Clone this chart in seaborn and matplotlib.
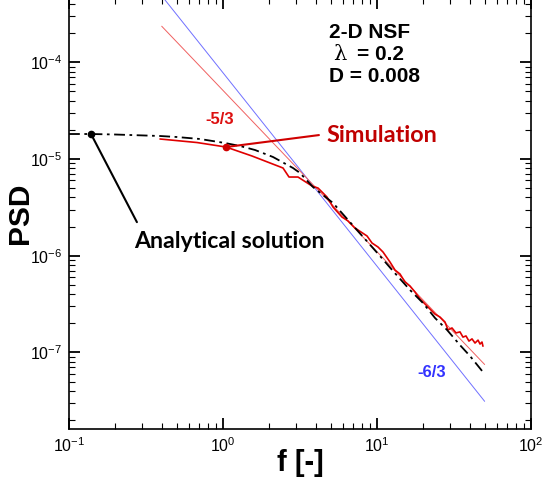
import matplotlib
matplotlib.use("Agg")
import matplotlib.pyplot as plt
import numpy as np
import pandas as pd
import seaborn as sns

# Simulated spectrum (frequency, PSD)
sim_f = [0.390, 0.678, 1.046, 1.543, 2.453, 2.683, 3.069, 3.784, 4.140, 4.732,
         5.179, 5.926, 6.482, 7.197, 7.875, 8.616, 9.286, 10.15, 10.94, 12.14,
         13.09, 14.10, 15.20, 16.38, 17.65, 19.02, 21.13, 22.43, 23.81, 25.66,
         27.65, 28.91, 30.69, 32.58, 34.59, 36.16, 37.84, 39.55, 41.40, 43.29,
         45.29, 46.67, 48.06, 48.75]
sim_psd = [1.61e-5, 1.48e-5, 1.33e-5, 1.074e-5, 8.07e-6, 6.51e-6, 6.51e-6, 5.26e-6, 5.01e-6, 4.05e-6,
           3.19e-6, 2.51e-6, 2.29e-6, 1.934e-6, 1.758e-6, 1.599e-6, 1.352e-6, 1.230e-6, 1.092e-6, 8.61e-7,
           7.11e-7, 6.47e-7, 5.35e-7, 4.86e-7, 4.21e-7, 3.57e-7, 3.02e-7, 2.74e-7, 2.49e-7, 2.32e-7,
           2.06e-7, 1.71e-7, 1.79e-7, 1.59e-7, 1.63e-7, 1.44e-7, 1.48e-7, 1.31e-7, 1.38e-7, 1.25e-7,
           1.34e-7, 1.22e-7, 1.28e-7, 1.16e-7]

# Analytical spectrum
ana_f = [0.100, 0.139, 0.199, 0.390, 0.502, 0.709, 1.030, 1.289, 1.614, 2.112,
         2.848, 3.162, 3.839, 5.179, 7.413, 10.46, 12.70, 16.38, 19.89, 23.81,
         28.48, 34.59, 40.17, 48.75]
ana_psd = [1.813e-5, 1.813e-5, 1.792e-5, 1.729e-5, 1.688e-5, 1.61e-5, 1.464e-5, 1.363e-5, 1.239e-5, 1.049e-5,
           8.07e-6, 7.17e-6, 5.13e-6, 3.51e-6, 1.844e-6, 9.93e-7, 6.95e-7, 4.42e-7, 3.24e-7, 2.27e-7,
           1.71e-7, 1.19e-7, 9.18e-8, 6.27e-8]

# Reference slope lines (end points)
slope53_f = [0.4, 50.0]
slope53_psd = [2.36e-4, 7.5e-8]
slope63_f = [0.4, 50.0]
slope63_psd = [4.87e-4, 3.12e-8]

# Points picked out by the callouts
ana_mark = (0.139, 1.813e-5)
sim_mark = (1.046, 1.33e-5)

sns.set_theme(style="ticks")
plt.rcParams["font.family"] = ["Liberation Sans", "DejaVu Sans"]
plt.rcParams["mathtext.default"] = "regular"
plt.rcParams["text.color"] = "black"
plt.rcParams["axes.labelcolor"] = "black"
plt.rcParams["xtick.color"] = "black"
plt.rcParams["ytick.color"] = "black"
plt.rcParams["xtick.direction"] = "in"
plt.rcParams["ytick.direction"] = "in"

fig = plt.figure(figsize=(5.42, 4.84), dpi=100)
ax = fig.add_axes([0.1273, 0.1136, 0.8524, 0.8905])

sim_df = pd.DataFrame({"f": sim_f, "psd": sim_psd})
ana_df = pd.DataFrame({"f": ana_f, "psd": ana_psd})
s53 = pd.DataFrame({"f": slope53_f, "psd": slope53_psd})
s63 = pd.DataFrame({"f": slope63_f, "psd": slope63_psd})

sns.lineplot(data=s63, x="f", y="psd", ax=ax, color="#7070ff", lw=0.7,
             sort=False, estimator=None)
sns.lineplot(data=s53, x="f", y="psd", ax=ax, color="#f06060", lw=0.7,
             sort=False, estimator=None)
sns.lineplot(data=sim_df, x="f", y="psd", ax=ax, color="#e00000", lw=1.2,
             sort=False, estimator=None)
sns.lineplot(data=ana_df, x="f", y="psd", ax=ax, color="black", lw=1.3,
             sort=False, estimator=None, linestyle=(0, (6, 2.5, 1.5, 2.5)))

ax.set_xscale("log")
ax.set_yscale("log")
ax.set_xlim(0.1, 100)
ax.set_ylim(1.614e-8, 4.62e-4)

for side in ["top", "right", "bottom", "left"]:
    ax.spines[side].set_visible(True)
    ax.spines[side].set_linewidth(1.2)
    ax.spines[side].set_color("black")

ax.tick_params(which="both", top=True, right=True, direction="in", colors="black")
ax.tick_params(which="major", length=8, width=1.3, labelsize=11.5, pad=5)
ax.tick_params(which="minor", length=4.3, width=0.8)
ax.yaxis.set_minor_locator(matplotlib.ticker.LogLocator(base=10, subs=np.arange(2, 10), numticks=20))
ax.xaxis.set_minor_locator(matplotlib.ticker.LogLocator(base=10, subs=np.arange(2, 10), numticks=20))
ax.yaxis.set_major_locator(matplotlib.ticker.LogLocator(base=10, numticks=20))

ax.set_xlabel("f [-]", fontsize=21, fontweight="bold", va="center")
ax.set_ylabel("PSD", fontsize=21.5, fontweight="bold", va="center")
ax.xaxis.set_label_coords(0.5, -0.079)
ax.yaxis.set_label_coords(-0.106, 0.5)

# Callout: analytical solution
ax.annotate("", xy=ana_mark, xycoords="data", xytext=(0.147, 0.480),
            textcoords="axes fraction",
            arrowprops=dict(arrowstyle="-", color="black", lw=1.5, shrinkA=0, shrinkB=0))
ax.plot(*ana_mark, "o", color="black", ms=4.5)
ax.text(0.1407, 0.434, "Analytical solution", transform=ax.transAxes,
        fontsize=16.7, fontweight="bold", family=["Lato", "DejaVu Sans"],
        ha="left", va="center", color="black")

# Callout: simulation
ax.annotate("", xy=sim_mark, xycoords="data", xytext=(0.541, 0.682),
            textcoords="axes fraction",
            arrowprops=dict(arrowstyle="-", color="#d00000", lw=1.5, shrinkA=0, shrinkB=0))
ax.plot(*sim_mark, "o", color="#d00000", ms=4.5)
ax.text(0.558, 0.680, "Simulation", transform=ax.transAxes,
        fontsize=16.9, fontweight="bold", family=["Lato", "DejaVu Sans"],
        ha="left", va="center", color="#c00000")

# Slope labels
ax.text(0.326, 0.717, "-5/3", transform=ax.transAxes, fontsize=12,
        fontweight="bold", ha="center", va="center", color="#dd1111")
ax.text(0.785, 0.130, "-6/3", transform=ax.transAxes, fontsize=12,
        fontweight="bold", ha="center", va="center", color="#3333ff")

# Case parameters
ax.text(0.563, 0.919, "2-D NSF", transform=ax.transAxes, fontsize=15,
        fontweight="bold", ha="left", va="center")
ax.text(0.571, 0.868, "λ", transform=ax.transAxes, fontsize=15,
        family=["DejaVu Serif"], ha="left", va="center")
ax.text(0.623, 0.868, "= 0.2", transform=ax.transAxes, fontsize=15,
        fontweight="bold", ha="left", va="center")
ax.text(0.563, 0.819, "D = 0.008", transform=ax.transAxes, fontsize=15,
        fontweight="bold", ha="left", va="center")

fig.savefig("out.png", dpi=100)
